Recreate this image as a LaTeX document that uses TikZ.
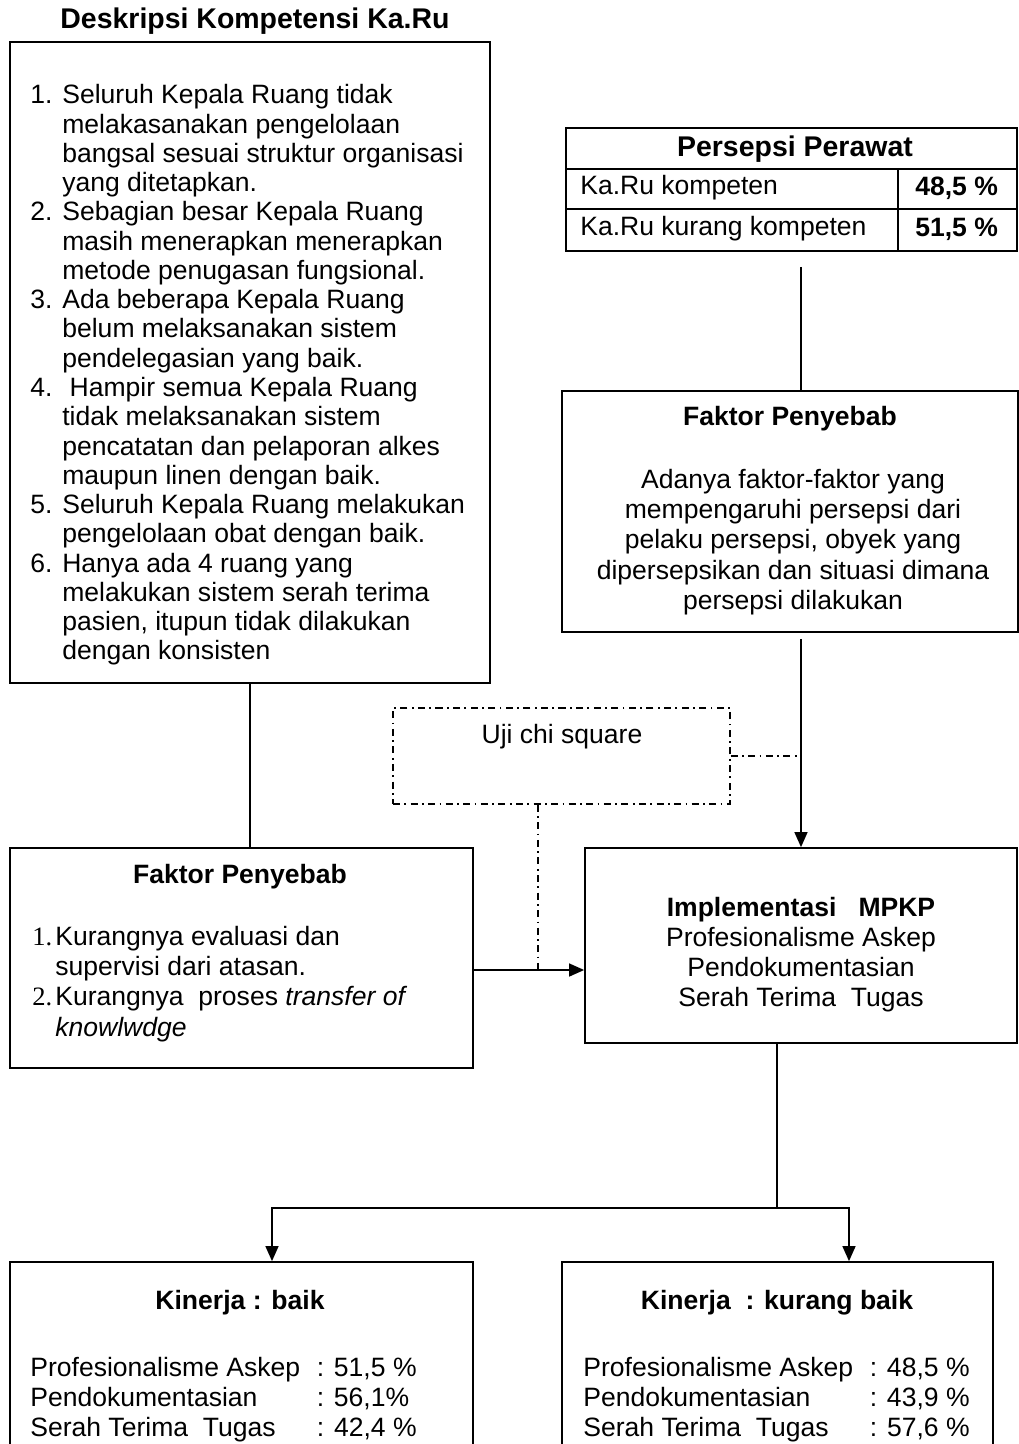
\documentclass[tikz,border=0pt]{standalone}
\usepackage{fontspec}
\setmainfont{Liberation Sans}
\newfontfamily\serifnum{Liberation Serif}
\usepackage{tikz}
\usetikzlibrary{arrows.meta}

\newcommand{\teks}{\fontsize{15.1}{17.2}\selectfont}
\newcommand{\teksrapat}{\fontsize{15.1}{16.65}\selectfont}
\newcommand{\teksbesar}{\fontsize{16.2}{18}\selectfont\bfseries}
\newcommand{\nomor}[1]{\makebox[0.64cm][l]{#1}}
\newcommand{\ind}{\hspace*{0.64cm}}
\newcommand{\nomorb}[1]{\makebox[0.46cm][l]{\serifnum #1}}
\newcommand{\kolom}[1]{\makebox[5.73cm][l]{#1}}

\tikzset{
	kotak/.style={draw, line width=1pt, inner sep=0pt},
	garis/.style={line width=0.8pt},
	titikgaris/.style={line width=0.8pt, dash pattern=on 4pt off 2.5pt on 1pt off 2.5pt},
}

\begin{document}
\begin{tikzpicture}[font=\teks, >={Triangle[length=0.3cm,width=0.26cm]}]
			\useasboundingbox (0,0) rectangle (20.38,-28.88);
			\clip (0,0) rectangle (20.38,-28.88);

			\node[font=\teksbesar] (judul) at (5.1,-0.42) {Deskripsi Kompetensi Ka.Ru};
			\node[kotak, minimum width=9.6cm, minimum height=12.82cm] (deskripsi) at (5.0,-7.25) {};
			\node[align=left, anchor=west, inner sep=0pt, font=\teksrapat] (daftar) at (0.6,-7.50) {\nomor{1.}Seluruh Kepala Ruang tidak\\ \ind melakasanakan pengelolaan\\ \ind bangsal sesuai struktur organisasi\\ \ind yang ditetapkan.\\
				\nomor{2.}Sebagian besar Kepala Ruang\\ \ind masih menerapkan menerapkan\\ \ind metode penugasan fungsional.\\
				\nomor{3.}Ada beberapa Kepala Ruang\\ \ind belum melaksanakan sistem\\ \ind pendelegasian yang baik.\\
				\nomor{4.}\ Hampir semua Kepala Ruang\\ \ind tidak melaksanakan sistem\\ \ind pencatatan dan pelaporan alkes\\ \ind maupun linen dengan baik.\\
				\nomor{5.}Seluruh Kepala Ruang melakukan\\ \ind pengelolaan obat dengan baik.\\
				\nomor{6.}Hanya ada 4 ruang yang\\ \ind melakukan sistem serah terima\\ \ind pasien, itupun tidak dilakukan\\ \ind dengan konsisten};

			\node[kotak, minimum width=9.02cm, minimum height=2.46cm] (persepsi) at (15.83,-3.79) {};
			\draw[line width=1pt] (11.32,-3.38) -- (20.34,-3.38);
			\draw[line width=1pt] (11.32,-4.18) -- (20.34,-4.18);
			\draw[line width=1pt] (17.96,-3.38) -- (17.96,-5.02);
			\node[font=\teksbesar] (judulpersepsi) at (15.9,-2.98) {Persepsi Perawat};
			\node[anchor=west, inner sep=0pt] (kompeten) at (11.6,-3.76) {Ka.Ru kompeten};
			\node[anchor=west, inner sep=0pt, font=\teks\bfseries] (nilaikompeten) at (18.3,-3.76) {48,5 \%};
			\node[anchor=west, inner sep=0pt] (kurang) at (11.6,-4.58) {Ka.Ru kurang kompeten};
			\node[anchor=west, inner sep=0pt, font=\teks\bfseries] (nilaikurang) at (18.3,-4.58) {51,5 \%};

			\node[kotak, minimum width=9.12cm, minimum height=4.82cm] (faktorkanan) at (15.8,-10.23) {};
			\node[font=\teks\bfseries] (judulkanan) at (15.8,-8.38) {Faktor Penyebab};
			\node[align=center, inner sep=0pt] (isikanan) at (15.86,-10.84) {Adanya faktor-faktor yang\\ mempengaruhi persepsi dari\\ pelaku persepsi, obyek yang\\ dipersepsikan dan situasi dimana\\ persepsi dilakukan};

			\node[kotak, titikgaris, minimum width=6.74cm, minimum height=1.92cm] (uji) at (11.23,-15.12) {};
			\node (tekstuji) at (11.24,-14.74) {Uji chi square};

			\node[kotak, minimum width=8.64cm, minimum height=3.9cm] (implementasi) at (16.02,-18.91) {};
			\node[align=center, inner sep=0pt] (isiimplementasi) at (16.02,-19.09) {\textbf{Implementasi \ \ MPKP}\\ Profesionalisme Askep\\ Pendokumentasian\\ Serah Terima~ Tugas};

			\node[kotak, minimum width=9.26cm, minimum height=4.4cm] (faktorkiri) at (4.83,-19.16) {};
			\node[font=\teks\bfseries] (judulkiri) at (4.8,-17.54) {Faktor Penyebab};
			\node[align=left, anchor=west, inner sep=0pt] (isikiri) at (0.64,-19.68) {\nomorb{1.}Kurangnya evaluasi dan\\ \hspace*{0.46cm}supervisi dari atasan.\\ \nomorb{2.}Kurangnya~ proses \textit{transfer of}\\ \hspace*{0.46cm}\textit{knowlwdge}};

			\node[kotak, minimum width=9.26cm, minimum height=4.16cm] (kinerjabaik) at (4.83,-27.32) {};
			\node[font=\teks\bfseries] (judulbaik) at (4.8,-26.06) {Kinerja : baik};
			\node[align=left, anchor=west, inner sep=0pt] (isibaik) at (0.6,-27.99) {\kolom{Profesionalisme Askep}: 51,5 \%\\ \kolom{Pendokumentasian}: 56,1\%\\ \kolom{Serah Terima~ Tugas}: 42,4 \%};

			\node[kotak, minimum width=8.62cm, minimum height=4.16cm] (kinerjakurang) at (15.55,-27.32) {};
			\node[font=\teks\bfseries] (judulkurang) at (15.54,-26.06) {Kinerja~ : kurang baik};
			\node[align=left, anchor=west, inner sep=0pt] (isikurang) at (11.66,-27.99) {\kolom{Profesionalisme Askep}: 48,5 \%\\ \kolom{Pendokumentasian}: 43,9 \%\\ \kolom{Serah Terima~ Tugas}: 57,6 \%};

			\coordinate (panah) at (0,-19.40);
			\coordinate (cabang) at (15.54,-24.16);
			\draw[garis] (deskripsi.south) -- (deskripsi.south |- faktorkiri.north);
			\draw[garis] (implementasi.north |- persepsi.south) ++(0,-0.3) -- (implementasi.north |- faktorkanan.north);
			\draw[garis, ->] (implementasi.north |- faktorkanan.south) ++(0,-0.12) -- (implementasi.north);
			\draw[titikgaris] (uji.east) -- (uji.east -| implementasi.north);
			\draw[garis, ->] (faktorkiri.east |- panah) -- (implementasi.west |- panah);
			\draw[titikgaris] ([xshift=-0.47cm]uji.south) -- ([xshift=-0.47cm]uji.south |- panah);
			\draw[garis] (implementasi.south -| cabang) -- (cabang);
			\draw[garis, ->] (cabang) -| ([xshift=0.61cm]kinerjabaik.north);
			\draw[garis, ->] (cabang) -| ([xshift=1.43cm]kinerjakurang.north);
		\end{tikzpicture}
\end{document}
